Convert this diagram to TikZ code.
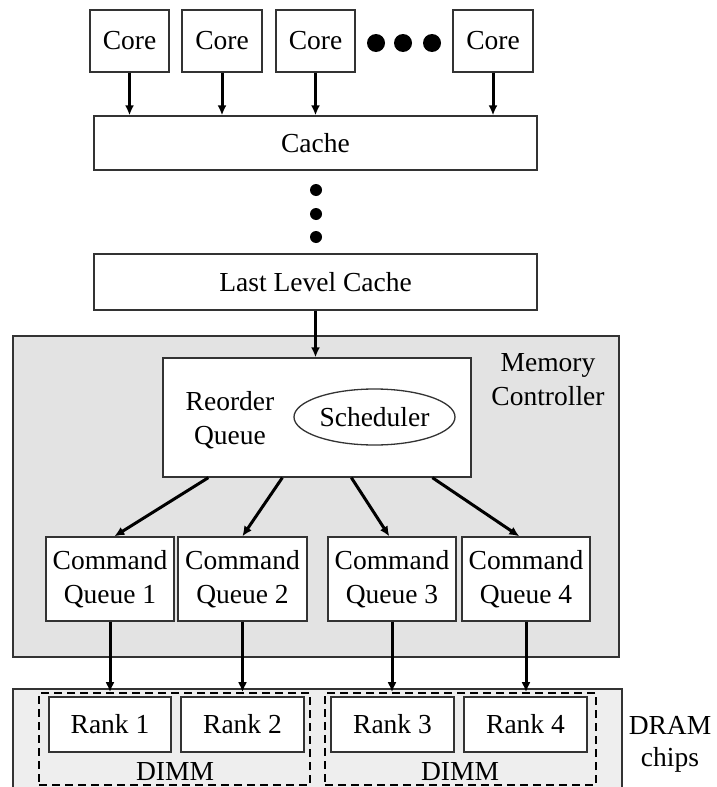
\documentclass[tikz,border=0pt]{standalone}
\usepackage{fontspec}
\setmainfont{Liberation Serif}
\usetikzlibrary{arrows.meta,shapes.geometric}
\definecolor{mcgray}{HTML}{E3E3E3}
\definecolor{dramgray}{HTML}{EEEEEE}
\definecolor{edge}{HTML}{333333}
\tikzset{
  box/.style={draw=edge, line width=1.3pt, fill=white, rectangle, inner sep=0pt, align=center},
  lbl/.style={inner sep=0pt, align=center},
  arr/.style={line width=3pt, -{Latex[length=10pt,width=9pt]}},
  dot/.style={circle, fill=black, inner sep=0pt},
  dimmbox/.style={draw=black, line width=1.6pt, dash pattern=on 8pt off 5pt},
}
\begin{document}
\begin{tikzpicture}[x=1pt, y=-1pt, font=\fontsize{27.5}{34}\selectfont]
\useasboundingbox (0,0) rectangle (716,787);
\clip (0,0) rectangle (716,787);

% cores
\node[box, minimum width=79pt, minimum height=62pt] (c1) at (129.5,41) {Core};
\node[box, minimum width=80pt, minimum height=62pt] (c2) at (222,41) {Core};
\node[box, minimum width=79pt, minimum height=62pt] (c3) at (315.5,41) {Core};
\node[box, minimum width=80pt, minimum height=62pt] (c4) at (493,41) {Core};
\node[dot, minimum size=18pt] (d1) at (376,43) {};
\node[dot, minimum size=18pt] (d2) at (403,43) {};
\node[dot, minimum size=18pt] (d3) at (432,43) {};

% cache levels
\node[box, minimum width=443pt, minimum height=54pt] (cache) at (315.5,143) {Cache};
\node[dot, minimum size=12pt] (v1) at (316,190) {};
\node[dot, minimum size=12pt] (v2) at (316,214) {};
\node[dot, minimum size=12pt] (v3) at (316,237) {};
\node[box, minimum width=443pt, minimum height=56pt] (llc) at (315.5,282) {Last Level Cache};

% memory controller
\node[draw=edge, line width=1.3pt, fill=mcgray, rectangle, inner sep=0pt,
      minimum width=606pt, minimum height=321pt] (mc) at (316,496.5) {};
\node[lbl] (mclbl) at (548,380) {Memory\\Controller};
\node[box, minimum width=308pt, minimum height=119pt] (rq) at (317,417.5) {};
\node[lbl] (rqlbl) at (230,420) {Reorder\\Queue};
\node[draw=edge, line width=1.3pt, ellipse, inner sep=0pt,
      minimum width=161pt, minimum height=56pt] (sch) at (374.5,417) {Scheduler};

\node[box, minimum width=128pt, minimum height=84pt] (q1) at (110,579) {Command\\Queue 1};
\node[box, minimum width=129pt, minimum height=84pt] (q2) at (242.5,579) {Command\\Queue 2};
\node[box, minimum width=128pt, minimum height=84pt] (q3) at (392,579) {Command\\Queue 3};
\node[box, minimum width=128pt, minimum height=84pt] (q4) at (526,579) {Command\\Queue 4};

% DRAM chips
\node[draw=edge, line width=1.3pt, fill=dramgray, rectangle, inner sep=0pt,
      minimum width=609pt, minimum height=120pt] (dram) at (317.5,749) {};
\node[lbl, font=\fontsize{27.5}{32}\selectfont] (dramlbl) at (670,744) {DRAM\\chips};
\node[dimmbox, rectangle, inner sep=0pt, minimum width=271pt, minimum height=92pt] (dimm1) at (174.5,739) {};
\node[dimmbox, rectangle, inner sep=0pt, minimum width=271pt, minimum height=92pt] (dimm2) at (460.5,739) {};
\node[box, minimum width=122pt, minimum height=55pt] (r1) at (110,724.5) {Rank 1};
\node[box, minimum width=123pt, minimum height=55pt] (r2) at (242.5,724.5) {Rank 2};
\node[box, minimum width=123pt, minimum height=55pt] (r3) at (392.5,724.5) {Rank 3};
\node[box, minimum width=123pt, minimum height=55pt] (r4) at (525.5,724.5) {Rank 4};
\node[lbl] (dl1) at (175,772) {DIMM};
\node[lbl] (dl2) at (460,772) {DIMM};

% connectors
\foreach \c in {c1,c2,c3,c4}
  \draw[arr] (\c.south) -- (\c.south |- cache.north);
\draw[arr] (llc.south) -- (llc.south |- rq.north);
\draw[arr] ([xshift=46pt]rq.south west) -- ([xshift=69pt]q1.north west);
\draw[arr] ([xshift=120pt]rq.south west) -- ([xshift=65pt]q2.north west);
\draw[arr] ([xshift=189pt]rq.south west) -- ([xshift=62pt]q3.north west);
\draw[arr] ([xshift=270pt]rq.south west) -- ([xshift=58pt]q4.north west);
\draw[arr] (q1.south) -- (q1.south |- dimm1.north);
\draw[arr] (q2.south) -- (q2.south |- dimm1.north);
\draw[arr] (q3.south) -- (q3.south |- dimm2.north);
\draw[arr] (q4.south) -- (q4.south |- dimm2.north);
\end{tikzpicture}
\end{document}
